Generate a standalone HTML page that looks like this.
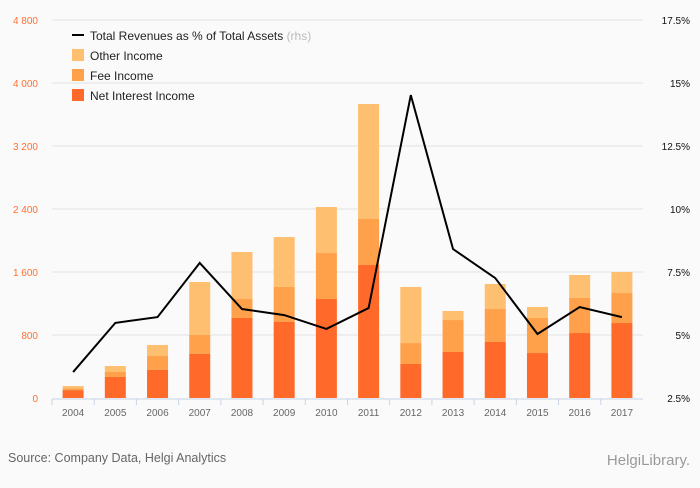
<!DOCTYPE html>
<html><head><meta charset="utf-8"><style>
body{margin:0;background:#fafafa;font-family:"Liberation Sans",sans-serif}
svg text{font-family:"Liberation Sans",sans-serif}
</style></head><body>
<svg id="c" width="700" height="483">
<rect width="700" height="483" fill="#fafafa"/>
<g id="grid"></g><g id="bars"></g><g id="line"></g><g id="axes"></g>
<g>
<line x1="72" y1="35" x2="84" y2="35" stroke="#000" stroke-width="2"/>
<text x="90" y="40" font-size="12" fill="#222">Total Revenues as % of Total Assets <tspan fill="#bbb">(rhs)</tspan></text>
<rect x="72" y="49" width="12" height="12" fill="#ffbf70"/>
<text x="90" y="60" font-size="12" fill="#222">Other Income</text>
<rect x="72" y="69" width="12" height="12" fill="#ffa04a"/>
<text x="90" y="80" font-size="12" fill="#222">Fee Income</text>
<rect x="72" y="89" width="12" height="12" fill="#ff6a2b"/>
<text x="90" y="100" font-size="12" fill="#222">Net Interest Income</text>
</g>
<text x="8" y="462" font-size="12.5" fill="#666">Source: Company Data, Helgi Analytics</text>
<text x="690" y="465" font-size="15" fill="#999" text-anchor="end">HelgiLibrary.</text>
</svg>
<script>
const years=["2004","2005","2006","2007","2008","2009","2010","2011","2012","2013","2014","2015","2016","2017"];
const nii=[100,267,356,559,1016,965,1257,1689,432,584,711,571,825,952];
const fee=[20,63,177,241,241,445,584,584,266,406,419,445,445,381];
const other=[32,76,140,673,597,634,584,1460,712,115,318,140,292,267];
const pct=[3.53,5.48,5.71,7.86,6.03,5.79,5.24,6.07,14.52,8.41,7.26,5.04,6.11,5.71];
const leftTicks=[0,800,1600,2400,3200,4000,4800];
const leftLabels=["0","800","1 600","2 400","3 200","4 000","4 800"];
const rightTicks=[2.5,5,7.5,10,12.5,15,17.5];
const rightLabels=["2.5%","5%","7.5%","10%","12.5%","15%","17.5%"];
const NS="http://www.w3.org/2000/svg";
const X0=52,X1=643,Y0=398,Y1=20;
const bw=(X1-X0)/years.length;
const xc=i=>X0+bw*(i+0.5);
const yL=v=>Y0-(v/4800)*(Y0-Y1);
const yR=v=>Y0-((v-2.5)/15)*(Y0-Y1);
function mk(t,a,p){const e=document.createElementNS(NS,t);for(const k in a)e.setAttribute(k,a[k]);p.appendChild(e);return e;}
const grid=document.getElementById('grid'),bars=document.getElementById('bars'),axes=document.getElementById('axes'),lg=document.getElementById('line');
leftTicks.forEach((v,i)=>{
 if(i>0){const l=mk('line',{x1:X0,x2:X1,y1:yL(v),y2:yL(v),stroke:'#e3e3e3'},grid);
 
 }
 const t=mk('text',{x:38,y:yL(v)+4,'font-size':10,fill:'#ff7030','text-anchor':'end'},axes);t.textContent=leftLabels[i];
 
 
});
rightTicks.forEach((v,i)=>{
 const t=mk('text',{x:690,y:yR(v)+4,'font-size':10,fill:'#111','text-anchor':'end'},axes);t.textContent=rightLabels[i];
 
 
});
const ax=mk('line',{x1:X0,x2:X1,y1:Y0+1,y2:Y0+1,stroke:'#c8d4e6'},axes);


years.forEach((y,i)=>{
 const tk=mk('line',{x1:X0+bw*i,x2:X0+bw*i,y1:Y0+1,y2:Y0+7,stroke:'#c8d4e6'},axes);
 
 
 const t=mk('text',{x:xc(i),y:Y0+18,'font-size':10,fill:'#666','text-anchor':'middle'},axes);t.textContent=y;
 
 
 let base=0;
 [[nii,'#ff6a2b','bar-nii'],[fee,'#ffa04a','bar-fee'],[other,'#ffbf70','bar-other']].forEach(([arr,c,n])=>{
  const top=base+arr[i];
  const r=mk('rect',{x:xc(i)-10.5,width:21,y:yL(top),height:yL(base)-yL(top),fill:c},bars);
  
  
  base=top;
 });
});
const p=mk('polyline',{points:pct.map((v,i)=>xc(i)+','+yR(v)).join(' '),fill:'none',stroke:'#000','stroke-width':2},lg);


</script>
</body></html>
